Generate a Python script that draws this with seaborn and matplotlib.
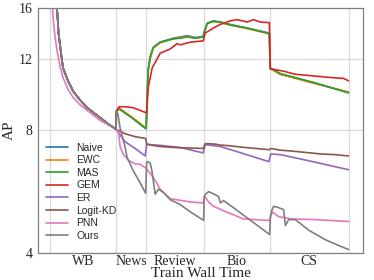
import numpy as np
import pandas as pd
import seaborn as sns
import matplotlib
matplotlib.use("Agg")
import matplotlib.pyplot as plt
from matplotlib.ticker import FixedLocator, FixedFormatter, NullLocator

# task boundaries on the time axis and the task names between them
boundaries = [0, 6.6, 9.57, 15.35, 21.93, 29.83]
tasks = ["WB", "News", "Review", "Bio", "CS"]
methods = ["Naive", "EWC", "MAS", "GEM", "ER", "Logit-KD", "PNN", "Ours"]

# first task (WB), shared by every method but PNN
wb_t = [0.5, 0.7, 0.85, 1.1, 1.3, 1.8, 2.3, 3.0, 3.7, 5.0, 5.8, 6.6]
wb_ap = [18.5, 16.0, 13.9, 12.4, 11.4, 10.6, 10.0, 9.5, 9.1, 8.6, 8.3, 8.05]

pnn_wb_t = [0.15, 0.3, 0.5, 0.7, 1.0, 1.3, 1.8, 2.3, 3.0, 3.7, 5.0, 6.6]
pnn_wb_ap = [18.5, 15.2, 13.6, 12.6, 11.5, 10.8, 10.1, 9.65, 9.25, 8.96, 8.47, 8.05]

naive_t = [6.62, 6.83, 8.2, 9.55,
           9.6, 9.8, 10.0, 10.3, 11.0, 12.3, 13.0, 13.7, 14.5, 15.3,
           15.4, 15.7, 16.3, 17.0, 18.0, 19.7, 21.9,
           21.98, 23.0, 26.3, 29.8]
naive_ap = [8.9, 9.1, 8.6, 8.1,
            8.1, 11.25, 12.1, 12.8, 13.2, 13.5, 13.6, 13.7, 13.55, 13.65,
            14.0, 14.7, 14.9, 14.8, 14.6, 14.3, 13.9,
            11.4, 11.0, 10.5, 9.92]

ewc_t = naive_t
ewc_ap = [8.9, 9.1, 8.62, 8.12,
          8.12, 11.2, 12.0, 12.75, 13.15, 13.45, 13.55, 13.65, 13.5, 13.6,
          14.0, 14.65, 14.85, 14.75, 14.55, 14.25, 13.85,
          11.35, 11.0, 10.45, 9.95]

mas_t = naive_t
mas_ap = [8.9, 9.05, 8.58, 8.08,
          8.08, 11.3, 12.15, 12.8, 13.2, 13.45, 13.5, 13.6, 13.5, 13.6,
          14.0, 14.7, 14.85, 14.8, 14.55, 14.3, 13.85,
          11.4, 11.05, 10.5, 9.9]

gem_t = [6.62, 6.75, 6.9, 7.5, 8.3, 8.8, 9.3, 9.55,
         9.65, 9.8, 10.2, 11.0, 12.0, 12.7, 13.0, 14.0, 15.3,
         15.5, 16.3, 17.0, 18.0, 18.7, 19.7, 20.3, 21.0, 21.9,
         22.0, 23.3, 24.5, 26.3, 28.0, 29.3, 29.8]
gem_ap = [8.9, 9.0, 9.15, 9.15, 9.1, 9.0, 8.9, 8.85,
          8.85, 10.2, 11.4, 12.4, 12.7, 13.1, 13.0, 13.2, 13.3,
          13.9, 14.3, 14.6, 14.9, 15.0, 14.8, 15.0, 14.8, 14.75,
          11.35, 11.2, 11.0, 10.9, 10.8, 10.75, 10.6]

er_t = [7.5, 8.5, 9.5,
        9.65, 11.0, 13.0, 15.3,
        15.5, 17.0, 19.0, 21.85,
        22.05, 23.0, 26.0, 29.8]
er_ap = [7.5, 7.22, 6.92,
         7.39, 7.35, 7.26, 7.04,
         7.38, 7.3, 7.05, 6.7,
         7.0, 6.97, 6.72, 6.4]

kd_t = [7.5, 8.5, 9.55,
        9.65, 10.5, 11.0, 12.0, 13.0, 14.0, 15.3,
        15.5, 16.5, 17.0, 18.0, 19.0, 20.0, 21.9,
        22.05, 23.0, 24.0, 25.5, 27.0, 28.5, 29.8]
kd_ap = [7.85, 7.72, 7.64,
         7.4, 7.33, 7.3, 7.27, 7.25, 7.24, 7.22,
         7.42, 7.4, 7.36, 7.33, 7.28, 7.24, 7.17,
         7.22, 7.15, 7.12, 7.06, 7.0, 6.97, 6.92]

pnn_t = [6.83, 7.0, 7.3, 7.83, 8.5, 9.0, 9.6,
         10.3, 11.0, 12.0, 14.0, 15.3,
         15.45, 15.83, 16.33, 17.33, 19.33, 21.67, 21.93,
         22.17, 22.83, 24.17, 26.5, 29.8]
pnn_ap = [7.95, 7.3, 7.0, 6.75, 6.62, 6.6, 6.45,
          6.13, 5.73, 5.43, 5.33, 5.3,
          5.5, 5.33, 5.2, 5.07, 4.84, 4.8, 4.8,
          5.04, 4.9, 4.84, 4.82, 4.77]

ours_t = [6.62, 6.77, 7.0, 7.5, 7.7, 8.3, 9.0, 9.55,
          9.65, 9.73, 10.0, 10.17, 10.5, 10.83, 11.33, 12.0, 13.0, 14.0, 15.33,
          15.4, 15.5, 15.83, 16.33, 16.83, 17.0, 17.33, 17.67, 21.93,
          22.0, 22.17, 22.33, 22.83, 23.33, 23.5, 23.83, 24.5, 25.83, 27.5, 28.83, 29.8]
ours_ap = [8.9, 8.8, 8.1, 7.26, 6.86, 6.37, 5.94, 5.6,
           6.67, 6.7, 6.64, 6.37, 5.57, 5.73, 5.62, 5.4, 5.25, 5.04, 4.8,
           5.5, 5.56, 5.65, 5.58, 5.5, 5.3, 5.37, 5.3, 4.43,
           4.9, 5.1, 5.2, 5.16, 5.1, 4.66, 4.82, 4.82, 4.54, 4.3, 4.16, 4.07]

series = {
    "Naive": (wb_t + naive_t, wb_ap + naive_ap),
    "EWC": (wb_t + ewc_t, wb_ap + ewc_ap),
    "MAS": (wb_t + mas_t, wb_ap + mas_ap),
    "GEM": (wb_t + gem_t, wb_ap + gem_ap),
    "ER": (wb_t + er_t, wb_ap + er_ap),
    "Logit-KD": (wb_t + kd_t, wb_ap + kd_ap),
    "PNN": (pnn_wb_t + pnn_t, pnn_wb_ap + pnn_ap),
    "Ours": (wb_t + ours_t, wb_ap + ours_ap),
}

rows = []
for m in methods:
    for t, v in zip(*series[m]):
        rows.append({"method": m, "time": t, "AP": v})
df = pd.DataFrame(rows)

sns.set_style("whitegrid")
plt.rcParams["font.family"] = ["Liberation Serif", "DejaVu Serif"]

fig = plt.figure(figsize=(3.74, 2.8), dpi=100)
ax = fig.add_axes([38 / 374, 1 - 252.5 / 280, 325 / 374, 244.2 / 280])

palette = sns.color_palette("tab10", 8)
sns.lineplot(data=df, x="time", y="AP", hue="method", hue_order=methods,
             palette=palette, estimator=None, sort=False, linewidth=1.2, ax=ax)

ax.set_yscale("log")
ax.set_ylim(4, 16)
ax.set_xlim(-1.2, 31.25)
ax.yaxis.set_major_locator(FixedLocator([4, 8, 12, 16]))
ax.yaxis.set_major_formatter(FixedFormatter(["4", "8", "12", "16"]))
ax.yaxis.set_minor_locator(NullLocator())

centers = [(boundaries[i] + boundaries[i + 1]) / 2 for i in range(len(tasks))]
ax.xaxis.set_major_locator(FixedLocator(boundaries))
ax.xaxis.set_major_formatter(FixedFormatter([""] * len(boundaries)))
ax.xaxis.set_minor_locator(FixedLocator(centers))
ax.xaxis.set_minor_formatter(FixedFormatter(tasks))
ax.tick_params(axis="x", which="minor", length=0, labelsize=10, pad=1.5)
ax.tick_params(axis="x", which="major", length=3, width=0.8, color="#888888")
ax.tick_params(axis="y", which="major", length=3, width=0.8, color="#888888",
               labelsize=10, pad=1)

ax.grid(True, which="major", color="#d9d9d9", linewidth=0.9)
ax.grid(False, which="minor")
for s in ax.spines.values():
    s.set_color("#808080")
    s.set_linewidth(0.9)

ax.set_xlabel("Train Wall Time", fontsize=11, labelpad=-0.5)
ax.set_ylabel("AP", fontsize=11, labelpad=2)

ax.legend(loc="upper left", bbox_to_anchor=(0.0255, 0.45), frameon=False,
          prop={"family": "Liberation Sans", "size": 7.5},
          handlelength=2.1, handletextpad=0.8, labelspacing=0.25,
          borderaxespad=0, borderpad=0)

fig.savefig("out.png", dpi=100)
